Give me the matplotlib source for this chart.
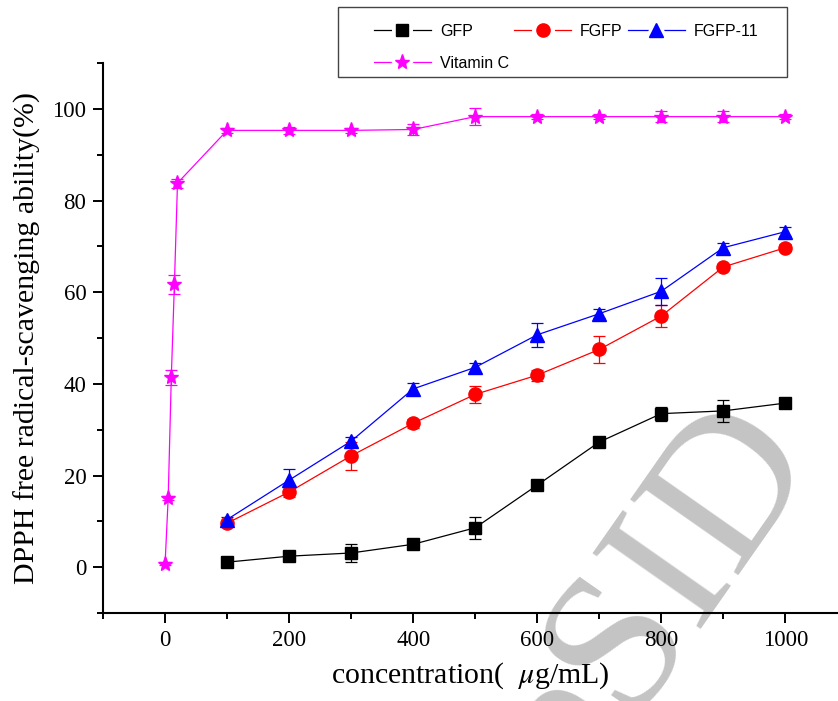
import numpy as np
import matplotlib.pyplot as plt
from matplotlib.lines import Line2D
from matplotlib.patches import Rectangle
from matplotlib.legend_handler import HandlerTuple
from matplotlib.ticker import MultipleLocator

conc = [100, 200, 300, 400, 500, 600, 700, 800, 900, 1000]
gfp = [1.1, 2.4, 3.1, 5.0, 8.6, 17.9, 27.3, 33.5, 34.1, 35.8]
gfp_err = [0.3, 0.4, 2.0, 0.4, 2.4, 0.5, 0.6, 1.5, 2.4, 0.5]
fgfp = [9.6, 16.4, 24.3, 31.4, 37.7, 41.9, 47.5, 54.8, 65.5, 69.7]
fgfp_err = [0.8, 1.1, 3.0, 1.0, 1.9, 1.2, 2.95, 2.3, 0.6, 0.8]
fgfp11 = [10.4, 19.0, 27.5, 38.9, 43.6, 50.7, 55.3, 60.2, 69.7, 73.2]
fgfp11_err = [0.6, 2.4, 1.0, 1.2, 1.0, 2.6, 1.0, 3.0, 1.0, 1.0]

vc_conc = [0, 5, 10, 15, 20, 100, 200, 300, 400, 500, 600, 700, 800, 900, 1000]
vc = [0.8, 15.1, 41.4, 61.7, 83.8, 95.3, 95.3, 95.3, 95.5, 98.3, 98.3, 98.3, 98.3, 98.3, 98.3]
vc_err = [0.3, 0.5, 1.6, 2.1, 1.0, 0.6, 0.8, 0.5, 1.2, 1.9, 0.5, 0.6, 1.2, 1.2, 0.5]

plt.rcParams['mathtext.fontset'] = 'stix'


def draw_series(ax, x, y, err, color, marker, ms):
    ax.errorbar(x, y, yerr=err, color=color, marker=marker, markersize=ms,
                linewidth=0.9, elinewidth=0.9, capsize=4, capthick=0.9)
    # legend key: line broken around the marker by a white halo
    line = Line2D([], [], color=color, linewidth=0.9)
    halo = Line2D([], [], color='white', marker=marker, linestyle='none',
                  markersize=ms + 2, markeredgecolor='white',
                  markeredgewidth=5)
    mark = Line2D([], [], color=color, marker=marker, linestyle='none',
                  markersize=ms)
    return (line, halo, mark)


def main():
    fig = plt.figure(figsize=(8.38, 7.01), dpi=100)
    ax = fig.add_axes([0.123, 0.1255, 0.877, 0.7846])
    ax.patch.set_alpha(0)

    h1 = draw_series(ax, conc, gfp, gfp_err, 'black', 's', 8.5)
    h2 = draw_series(ax, conc, fgfp, fgfp_err, 'red', 'o', 9.5)
    h3 = draw_series(ax, conc, fgfp11, fgfp11_err, 'blue', '^', 10)
    h4 = draw_series(ax, vc_conc, vc, vc_err, 'magenta', '*', 11)

    ax.set_xlim(-100, 1085)
    ax.set_ylim(-10, 110)
    ax.xaxis.set_major_locator(MultipleLocator(200))
    ax.xaxis.set_minor_locator(MultipleLocator(100))
    ax.yaxis.set_minor_locator(MultipleLocator(10))
    ax.set_yticks(range(0, 101, 20))
    for side in ['top', 'right']:
        ax.spines[side].set_visible(False)
    for side in ['left', 'bottom']:
        ax.spines[side].set_linewidth(1.5)
    ax.tick_params(which='major', direction='out', length=7, width=1.4,
                   labelsize=16.5, pad=5)
    ax.tick_params(which='minor', direction='out', length=4, width=1.4)
    for lab in ax.get_xticklabels() + ax.get_yticklabels():
        lab.set_fontfamily('Liberation Serif')

    ax.set_xlabel('concentration(  $\\mathit{\\mu}$g/mL)', fontsize=21.5,
                  fontfamily='Liberation Serif', labelpad=7)
    ax.set_ylabel('DPPH free radical-scavenging ability(%)', fontsize=21.5,
                  fontfamily='Liberation Serif', labelpad=8)

    # legend box drawn separately so the padding can be set freely
    fig.patches.append(Rectangle((0.4033, 0.890), 0.5358, 0.100,
                                 transform=fig.transFigure, facecolor='white',
                                 edgecolor='#444444', linewidth=1.0,
                                 zorder=4))
    # legend rows: GFP / FGFP / FGFP-11, then Vitamin C
    leg = fig.legend([h1, h4, h2, h3], ['GFP', 'Vitamin C', 'FGFP', 'FGFP-11'],
                     handler_map={tuple: HandlerTuple(ndivide=1, pad=0)},
                     ncol=3, loc='upper left', bbox_to_anchor=(0.446, 0.966),
                     prop={'family': 'Liberation Sans', 'size': 11.5},
                     frameon=False, handlelength=3.6, handletextpad=0.55,
                     columnspacing=0.3, borderpad=0, labelspacing=1.05,
                     borderaxespad=0)
    leg.set_zorder(5)

    fig.text(0.785, 0.15, 'eSID', fontsize=145, color='#c4c4c4',
             fontfamily='Liberation Serif', rotation=55,
             ha='center', va='center', zorder=-1)

    fig.savefig('out.png', dpi=100)


if __name__ == '__main__':
    main()
